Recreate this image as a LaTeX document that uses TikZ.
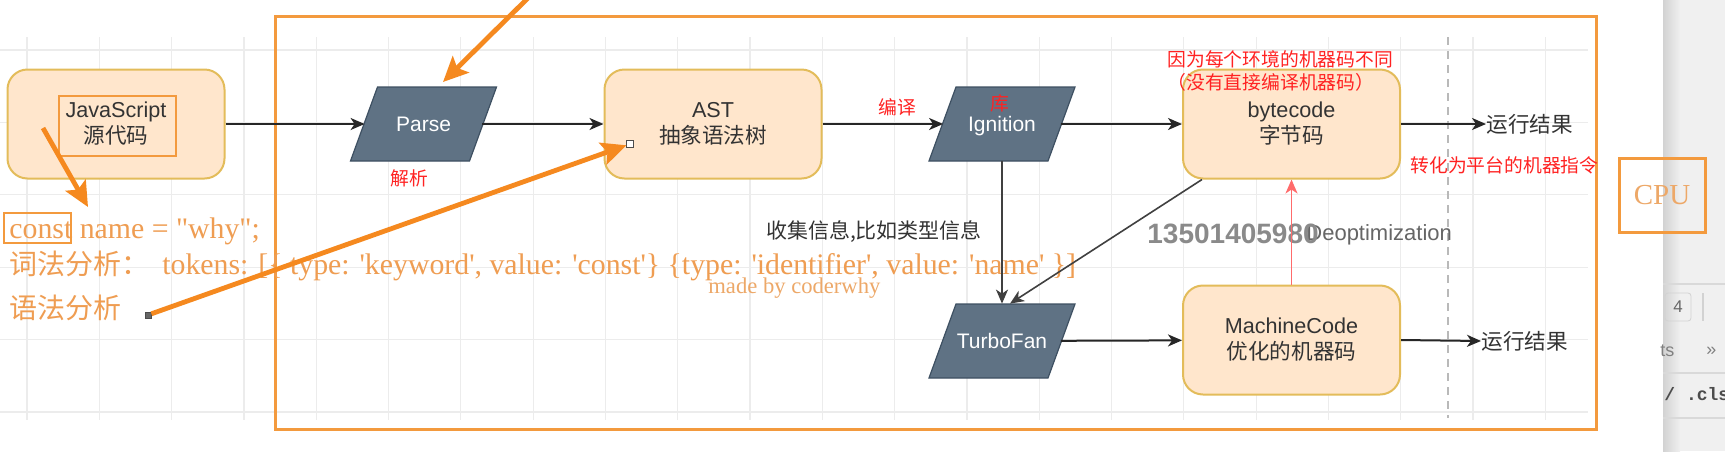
\documentclass[tikz,border=0pt]{standalone}
\usepackage{fontspec}
\setmainfont{Liberation Sans}
\newfontfamily\cjk{Noto Sans CJK SC}
\newfontfamily\tms[Ligatures=TeXOff]{Liberation Serif}
\newfontfamily\mono{Liberation Mono}
\usetikzlibrary{arrows.meta,calc}
\definecolor{boxfill}{HTML}{FFE6CC}
\definecolor{boxline}{HTML}{E3BC5A}
\definecolor{parafill}{HTML}{5F7284}
\definecolor{paraline}{HTML}{3E5062}
\definecolor{frameorange}{HTML}{F39A3E}
\definecolor{arrorange}{HTML}{F5891F}
\definecolor{codeorange}{HTML}{EF9D52}
\definecolor{lightorange}{HTML}{EDA868}
\definecolor{redtext}{HTML}{FF2222}
\definecolor{redline}{HTML}{FF6B6B}
\definecolor{txt}{HTML}{333333}
\definecolor{gridc}{HTML}{ECECEC}
\definecolor{wmark}{HTML}{8A8A8A}
\begin{document}
\begin{tikzpicture}[x=0.5pt,y=-0.5pt,
  box/.style={draw=boxline, fill=boxfill, line width=1pt, rounded corners=10pt,
    minimum width=108.5pt, minimum height=54.5pt, align=center,
    font=\fontsize{10.8}{13}\selectfont, text=txt, inner sep=0pt},
  paratext/.style={minimum width=58.5pt, minimum height=37pt, inner sep=0pt,
    text=white, text depth=0pt, font=\fontsize{10.5}{12}\selectfont},
  parashape/.style={fill=parafill, draw=paraline, line width=0.6pt},
  arr/.style={draw=black!85, line width=1pt, -{Stealth[length=7pt,width=6pt,inset=2pt]}},
  thinarr/.style={draw=black!75, line width=0.8pt, -{Stealth[length=7pt,width=6pt,inset=2pt]}},
  redarr/.style={draw=redline, line width=0.8pt, -{Stealth[length=7pt,width=6pt,inset=2pt,fill=redline]}},
  oarr/.style={draw=arrorange, line width=2.4pt, -{Stealth[length=12.5pt,width=11.5pt,inset=2.5pt]}},
  omark/.style={draw=frameorange, line width=1.2pt, inner sep=0pt},
  redlbl/.style={text=redtext, inner sep=0pt, font=\cjk\fontsize{9.4}{11.5}\selectfont},
  runlbl/.style={anchor=west, text=txt, inner sep=0pt, font=\cjk\fontsize{10.8}{13}\selectfont},
  code/.style={anchor=base west, inner sep=0pt, text=codeorange, font=\tms\fontsize{14.9}{17}\selectfont},
  codecjk/.style={anchor=base west, inner sep=0pt, text=codeorange, font=\cjk\fontsize{14}{17}\selectfont},
  sqf/.style={draw=black!70, fill=black!60, minimum size=3pt, inner sep=0pt},
  sqo/.style={draw=black!70, fill=white, minimum size=3.2pt, inner sep=0pt}
]
\useasboundingbox (0,0) rectangle (1725,451);
\fill[white] (0,0) rectangle (1725,451);
% grid
\foreach \i in {0,...,21} \draw[gridc, line width=0.6pt] ({27+72.3*\i},37) -- ({27+72.3*\i},420);
\foreach \j in {0,...,5} \draw[gridc, line width=0.6pt] (0,{50+72.4*\j}) -- (1588,{50+72.4*\j});
% right side panel
\fill[gray!12] (1663,0) rectangle (1725,451);
\shade[left color=gray!35, right color=gray!12] (1663,0) rectangle (1680,451);
\draw[gray!30, line width=0.6pt] (1663,284) -- (1725,284);
\draw[gray!30, line width=0.6pt] (1663,373) -- (1725,373);
\draw[gray!30, line width=0.6pt] (1663,418) -- (1725,418);
\node[draw=gray!35, rounded corners=1.5pt, minimum width=13pt, minimum height=14pt, inner sep=0pt,
  text=black!60, font=\fontsize{8.5}{10}\selectfont] (tab4) at (1678,307) {4};
\draw[gray!35, line width=0.6pt] (1703,293) -- (1703,321);
\node[anchor=west, inner sep=0pt, text=black!50, font=\fontsize{9}{10}\selectfont] (tabts) at (1660,351) {ts};
\node[anchor=west, inner sep=0pt, text=black!50, font=\fontsize{9}{10}\selectfont] (tabmore) at (1706,351) {»};
\node[anchor=west, inner sep=0pt, text=black!70, font=\mono\bfseries\fontsize{9}{10}\selectfont] (tabcls) at (1664,394) {/ .cls};
% outer frame
\draw[frameorange, line width=1.5pt] (275,16) rectangle (1596,429);
% page break line
\draw[gray!55, line width=0.6pt, dash pattern=on 4pt off 3pt] (1448,37) -- (1448,418);
% parallelograms
\foreach \c in {(423.5,124),(1002,124),(1002,341)}
  \filldraw[parashape, shift={\c}] (-73,37) -- (46,37) -- (73,-37) -- (-46,-37) -- cycle;
% nodes
\node[box] (js) at (116,124) {JavaScript\\{\cjk 源代码}};
\node[omark, minimum width=58.5pt, minimum height=30pt] (jsmark) at (117.5,126) {};
\node[paratext] (parse) at (423.5,124) {Parse};
\node[box] (ast) at (713,124) {AST\\{\cjk 抽象语法树}};
\node[paratext] (ign) at (1002,124) {Ignition};
\node[box] (bc) at (1291.5,124) {bytecode\\{\cjk 字节码}};
\node[paratext] (tf) at (1002,341) {TurboFan};
\node[box] (mc) at (1291.5,340) {MachineCode\\{\cjk 优化的机器码}};
\node[runlbl] (run1) at (1486,124) {运行结果};
\node[runlbl] (run2) at (1481,341) {运行结果};
% labels
\node[redlbl] (lblparse) at (409,178) {解析};
\node[redlbl] (lblcomp) at (897,107) {编译};
\node[redlbl] (lblku) at (1000,103) {库};
\node[redlbl, anchor=west, align=left] (note1) at (1167,70.5) {因为每个环境的机器码不同\\（没有直接编译机器码）};
\node[redlbl, anchor=west] (note2) at (1410,165) {转化为平台的机器指令};
\node[inner sep=0pt, text=txt, font=\cjk\fontsize{10.5}{12}\selectfont] (collect) at (874,232) {收集信息,比如类型信息};
\node[anchor=base west, inner sep=0pt, text=black!60, font=\fontsize{11}{13}\selectfont] (deopt) at (1306,240) {Deoptimization};
\node[anchor=base west, inner sep=0pt, text=wmark, font=\bfseries\fontsize{14}{16}\selectfont] (wm) at (1147,243) {13501405980};
% CPU box
\node[draw=frameorange, line width=1.5pt, minimum width=43pt, minimum height=37pt, inner sep=0pt,
  text=lightorange, font=\tms\fontsize{14.5}{17}\selectfont] (cpu) at (1662,195) {CPU};
% code text
\node[code] (codeline) at (9,238) {const name = "why";};
\node[omark, minimum width=33.5pt, minimum height=15pt] (constmark) at (37.5,228) {};
\node[codecjk] (lex) at (9,274) {词法分析：};
\node[code] (tokens) at (162,274) {tokens: [\{ type: 'keyword', value: 'const'\} \{type: 'identifier', value: 'name' \}]};
\node[codecjk] (syn) at (9,318) {语法分析};
\node[anchor=base west, inner sep=0pt, text=lightorange, font=\tms\fontsize{11.3}{13}\selectfont] (made) at (708,293) {made by coderwhy};
\node[sqf] (sq1) at (148,315) {};
\node[sqo] (sq2) at (630,144) {};
% black connectors
\draw[arr] (js) -- (parse);
\draw[arr] (parse) -- (ast);
\draw[arr] (ast) -- (ign);
\draw[arr] (ign) -- (bc);
\draw[arr] (bc) -- (run1);
\draw[arr] (tf) -- (mc);
\draw[arr] (mc.east) -- (run2.west);
\draw[thinarr] (ign.south) -- (tf.north);
\draw[thinarr] ([xshift=10pt]bc.south west) -- ([xshift=4pt]tf.north);
\draw[redarr] (mc.north) -- (bc.south);
% orange arrows
\coordinate (jsA) at (43,128);
\coordinate (jsB) at (88,207);
\draw[oarr] (jsA) -- (jsB);
\coordinate (topA) at (528,-2);
\coordinate (topB) at (443,82);
\draw[oarr] (topA) -- (topB);
\draw[oarr] (sq1) -- (sq2);
\end{tikzpicture}
\end{document}
